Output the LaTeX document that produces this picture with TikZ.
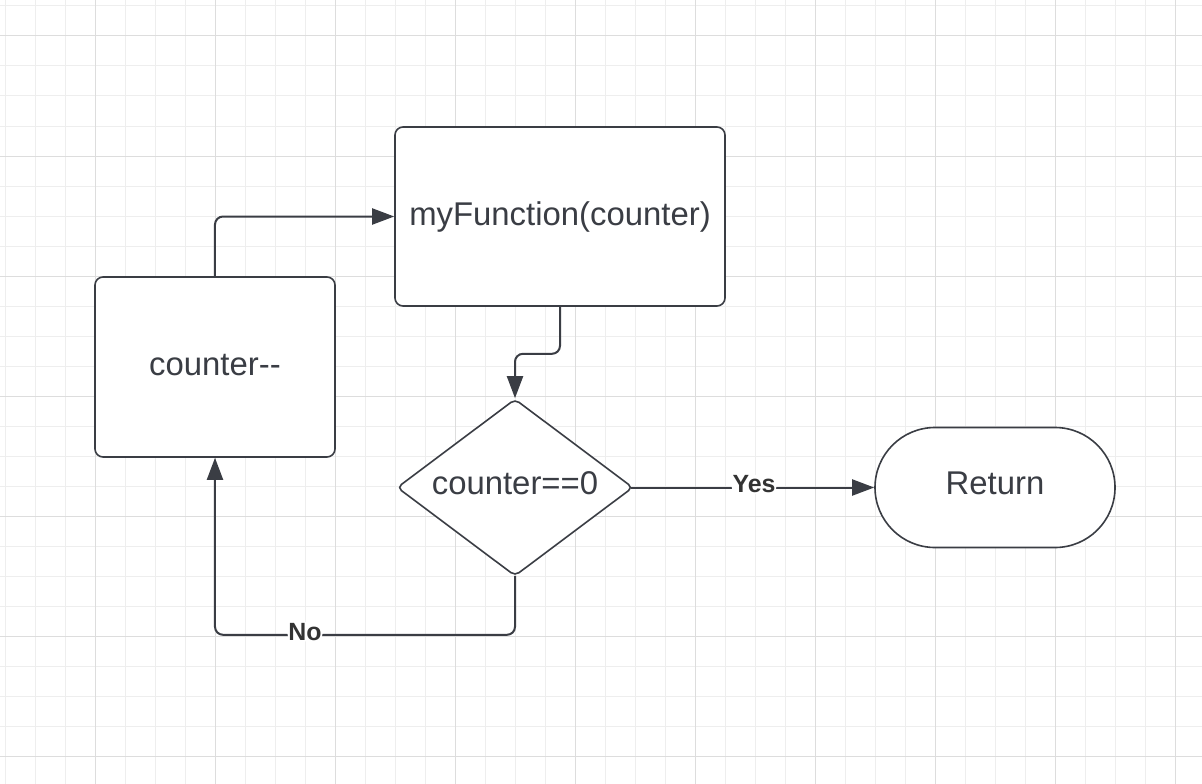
\documentclass[tikz,border=0pt]{standalone}
\usepackage{fontspec}
\setmainfont{Liberation Sans}
\usetikzlibrary{arrows.meta,positioning,shapes.geometric}
\definecolor{ink}{HTML}{3A3D44}
\definecolor{labelink}{HTML}{333333}
\definecolor{gridminor}{HTML}{EEEEEE}
\definecolor{gridmajor}{HTML}{DDDDDD}

\begin{document}
\begin{tikzpicture}[x=1bp,y=-1bp,on grid,
    box/.style={draw=ink,fill=white,line width=1.6bp,rounded corners=8bp,
      text=ink,font=\fontsize{33}{40}\selectfont},
    decision/.style={diamond,draw=ink,fill=white,line width=1.6bp,rounded corners=5bp,
      aspect=1.33,inner sep=1pt,minimum width=236bp,minimum height=177bp,text depth=8bp,
      text=ink,font=\fontsize{33}{40}\selectfont},
    terminal/.style={box,rounded corners=60bp,minimum width=240bp,minimum height=120bp,text depth=8bp},
    flow/.style={draw=ink,line width=2bp,rounded corners=8bp,-{Triangle[length=22bp,width=16bp]}},
    lbl/.style={fill=white,inner sep=1pt,yshift=3bp,text=labelink,font=\bfseries\fontsize{25}{30}\selectfont}]
    \useasboundingbox[fill=white] (0,0) rectangle (1202,784);
    \foreach \x in {5,35,...,1205} \draw[gridminor,line width=1bp] (\x,0) -- (\x,784);
    \foreach \y in {6,36,...,786} \draw[gridminor,line width=1bp] (0,\y) -- (1202,\y);
    \foreach \x in {95,215,...,1175} \draw[gridmajor,line width=1bp] (\x,0) -- (\x,784);
    \foreach \y in {36,156,...,756} \draw[gridmajor,line width=1bp] (0,\y) -- (1202,\y);

    \node[box,minimum width=330bp,minimum height=179bp](fn) at (560,216.5){myFunction(counter)};
    \node[box,minimum width=240bp,minimum height=180bp,text depth=5bp](dec_cnt)[below left=150.5bp and 345bp of fn]{counter-{}-};
    \node[decision](is_zero)[below left=271bp and 45bp of fn]{counter==0};
    \node[terminal](ret)[right=480bp of is_zero]{Return};

    \draw[flow] (dec_cnt.north) |- (fn.west);
    \draw[flow] (fn.south) -- ++(0,47) -| (is_zero.north);
    \draw[flow,shorten <=-3bp] (is_zero.east) -- node[lbl]{Yes} (ret.west);
    \draw[flow,shorten <=-1bp] (is_zero.south) -- ++(0,58) -| node[lbl,pos=0.35]{No} (dec_cnt.south);
\end{tikzpicture}
\end{document}
